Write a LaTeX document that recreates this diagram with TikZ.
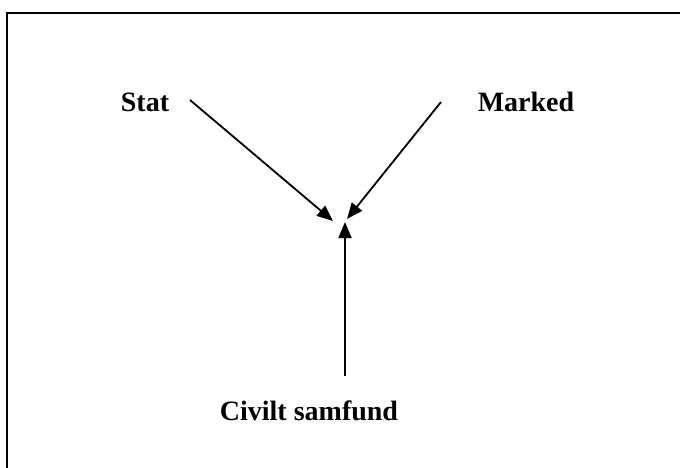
\documentclass[tikz,border=0pt]{standalone}
\usepackage{fontspec}
\setmainfont{Liberation Serif}
\usetikzlibrary{arrows.meta}
\begin{document}
\begin{tikzpicture}[x=1pt,y=-1pt,
  lbl/.style={font=\fontsize{28}{32}\selectfont\bfseries, inner sep=0pt, anchor=center},
  arr/.style={line width=1.8pt, -{Triangle[length=16pt,width=13pt]}}]
\useasboundingbox (0,0) rectangle (680,467);
\begin{scope}
\clip (0,0) rectangle (680,467);
\draw[line width=2.2pt] (7,13) rectangle (700,490);
\end{scope}
\node[lbl] (stat) at (145,102) {Stat};
\node[lbl] (marked) at (526,102) {Marked};
\node[lbl] (civil) at (309,411) {Civilt samfund};
\coordinate (s0) at (190,100);
\coordinate (m0) at (441,102);
\coordinate (c0) at (345,376);
\coordinate (st) at (333,221);
\coordinate (mt) at (347,219);
\coordinate (ct) at (345,222);
\draw[arr] (s0) -- (st);
\draw[arr] (m0) -- (mt);
\draw[arr] (c0) -- (ct);
\end{tikzpicture}
\end{document}
